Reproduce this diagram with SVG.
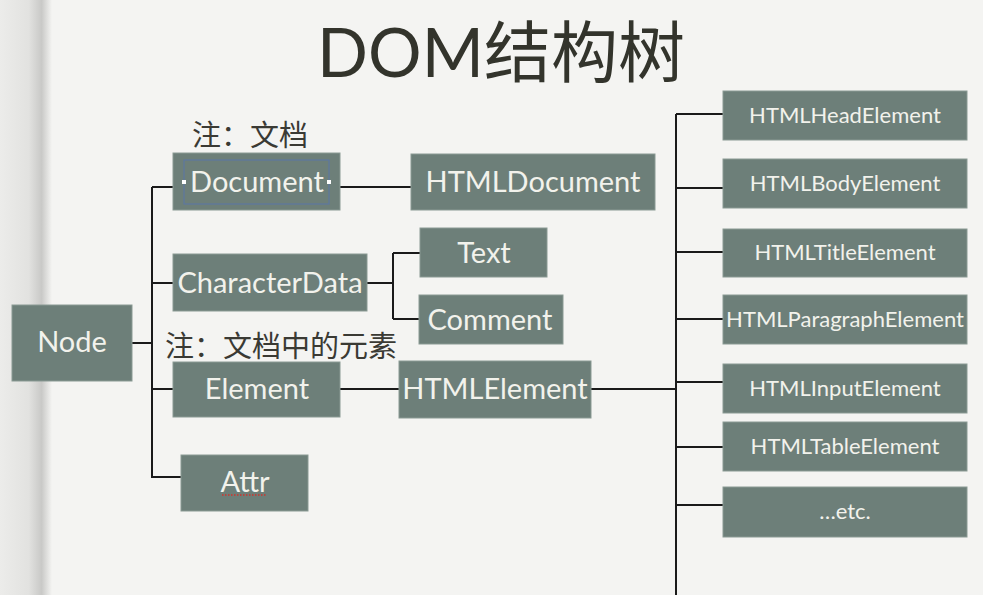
<svg xmlns="http://www.w3.org/2000/svg" width="983" height="595" viewBox="0 0 983 595">
<defs>
<linearGradient id="edge" x1="0" y1="0" x2="1" y2="0">
<stop offset="0" stop-color="#ececea"/>
<stop offset="0.55" stop-color="#e2e2e0"/>
<stop offset="0.8" stop-color="#c9c9c7"/>
<stop offset="1" stop-color="#f4f4f2"/>
</linearGradient>
<style>
.bx{fill:#6d7f79;stroke:#8a9a94;stroke-width:1}
.t{font-family:Lato,"Open Sans","Noto Sans",sans-serif;fill:#f2f2ec;text-anchor:middle}
.big{font-size:29px}
.sm{font-size:22px}
.ln{stroke:#1a1a1a;stroke-width:2;fill:none}
.note{font-family:"Noto Sans CJK SC","Noto Sans",sans-serif;font-size:29px;fill:#3a3a34}
</style>
</defs>
<rect x="0" y="0" width="983" height="595" fill="#f4f4f2"/>
<rect x="0" y="0" width="52" height="595" fill="url(#edge)"/>
<text x="501" y="77" font-family="Lato,'Noto Sans CJK SC',sans-serif" font-size="67" fill="#33342c" text-anchor="middle">DOM<tspan font-family="'Noto Sans CJK SC',sans-serif">结构树</tspan></text>
<text class="note" x="192" y="146">注：文档</text>
<text class="note" x="165" y="357">注：文档中的元素</text>
<g id="connectors">
<path class="ln" d="M128,343H152M152,187V478M152,187H180M152,283H180M152,389H180M152,477H181"/>
<path class="ln" d="M340,187H411"/>
<path class="ln" d="M367,283H393M393,253V319M393,253H420M393,319H420"/>
<path class="ln" d="M340,389H400"/>
<path class="ln" d="M591,389H676"/>
<path class="ln" d="M676,114V595M676,114H723M676,188H723M676,252H723M676,319H723M676,382H723M676,447H723M676,505H723"/>
</g>
<g id="node-Node"><rect class="bx" x="12" y="305" width="120" height="76"/><text class="t big" x="72" y="352">Node</text></g>
<g id="node-Document"><rect class="bx" x="173" y="153" width="167" height="57"/>
<rect x="184" y="160" width="145" height="44" fill="none" stroke="#5a76a8" stroke-width="1"/>
<rect x="182" y="180" width="4" height="4" fill="#fff"/><rect x="327" y="180" width="4" height="4" fill="#fff"/>
<text class="t big" x="257" y="192">Document</text></g>
<g id="node-CharacterData"><rect class="bx" x="173" y="254" width="194" height="57"/><text class="t big" x="270" y="293">CharacterData</text></g>
<g id="node-Element"><rect class="bx" x="173" y="362" width="167" height="55"/><text class="t big" x="257" y="399">Element</text></g>
<g id="node-Attr"><rect class="bx" x="181" y="455" width="127" height="56"/><text class="t big" x="245" y="492">Attr</text>
<line x1="222" y1="495" x2="267" y2="495" stroke="#d0342c" stroke-width="1.5" stroke-dasharray="1.5,1.5"/></g>
<g id="node-HTMLDocument"><rect class="bx" x="411" y="154" width="244" height="56"/><text class="t big" x="533" y="192">HTMLDocument</text></g>
<g id="node-Text"><rect class="bx" x="420" y="228" width="127" height="49"/><text class="t big" x="484" y="263">Text</text></g>
<g id="node-Comment"><rect class="bx" x="419" y="295" width="144" height="49"/><text class="t big" x="490" y="330">Comment</text></g>
<g id="node-HTMLElement"><rect class="bx" x="399" y="361" width="192" height="57"/><text class="t big" x="495" y="399">HTMLElement</text></g>
<g id="node-HTMLHeadElement"><rect class="bx" x="723" y="91" width="244" height="49"/><text class="t sm" x="845" y="123">HTMLHeadElement</text></g>
<g id="node-HTMLBodyElement"><rect class="bx" x="723" y="159" width="244" height="49"/><text class="t sm" x="845" y="191">HTMLBodyElement</text></g>
<g id="node-HTMLTitleElement"><rect class="bx" x="723" y="229" width="244" height="48"/><text class="t sm" x="845" y="260">HTMLTitleElement</text></g>
<g id="node-HTMLParagraphElement"><rect class="bx" x="723" y="295" width="244" height="49"/><text class="t sm" x="845" y="327">HTMLParagraphElement</text></g>
<g id="node-HTMLInputElement"><rect class="bx" x="723" y="364" width="244" height="49"/><text class="t sm" x="845" y="396">HTMLInputElement</text></g>
<g id="node-HTMLTableElement"><rect class="bx" x="723" y="422" width="244" height="49"/><text class="t sm" x="845" y="454">HTMLTableElement</text></g>
<g id="node-etc"><rect class="bx" x="723" y="487" width="244" height="50"/><text class="t sm" x="845" y="519">…etc.</text></g>
</svg>
